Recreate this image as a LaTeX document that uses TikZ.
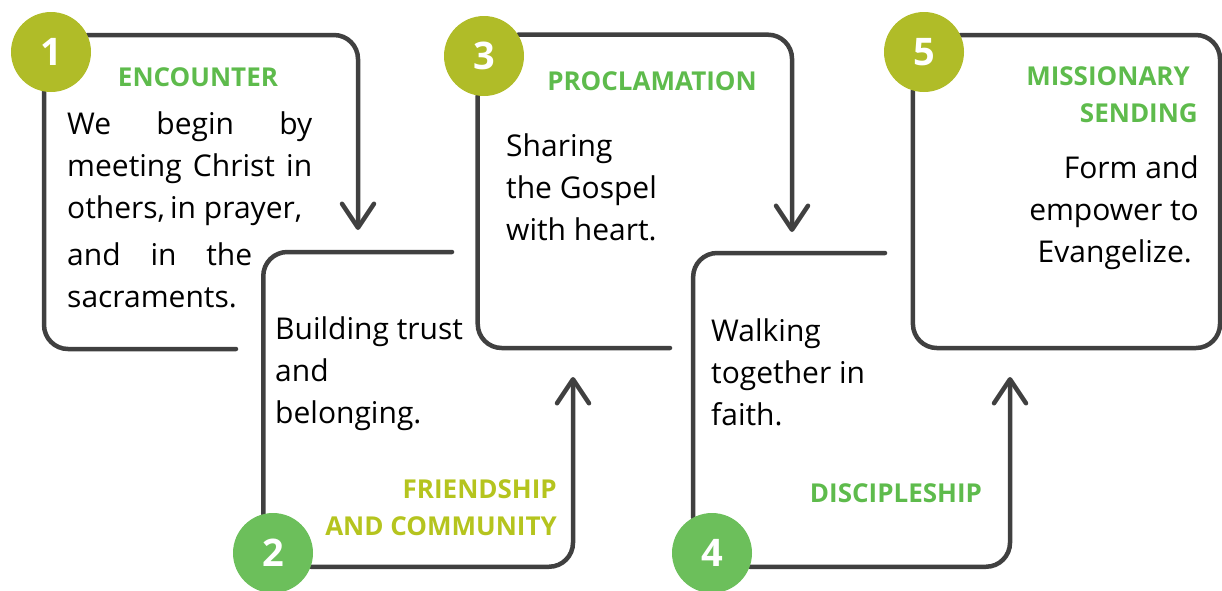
\documentclass[tikz,border=0pt]{standalone}
\usepackage{fontspec}
\setmainfont{Open Sans}
\usetikzlibrary{arrows.meta, backgrounds}
\definecolor{stroke}{HTML}{404040}
\definecolor{olive}{HTML}{B0BC28}
\definecolor{leaf}{HTML}{6CBF5B}
\definecolor{titlegreen}{HTML}{5EBB4C}
\definecolor{lime}{HTML}{B5C41E}

\begin{document}
\begin{tikzpicture}[x=1pt, y=-1pt,
    flow/.style={line width=4.5pt, draw=stroke, rounded corners=24pt, line cap=round},
    tip/.style={-{Straight Barb[length=24pt, width=32pt, round]}},
    badge/.style={circle, fill=#1, minimum size=80pt, inner sep=0pt, text=white,
        font=\fontsize{38}{38}\selectfont\bfseries},
    body/.style={inner sep=0pt, font=\fontsize{30}{42}\selectfont},
    head/.style={inner sep=0pt, text=#1, font=\fontsize{26}{37}\selectfont\bfseries}]
    \useasboundingbox (0,0) rectangle (1222,590);

    % numbered badges
    \node[badge=olive] (c1) at (51,52) {1};
    \node[badge=leaf] (c2) at (273,553) {2};
    \node[badge=olive] (c3) at (484,56) {3};
    \node[badge=leaf] (c4) at (712,553) {4};
    \node[badge=olive] (c5) at (924,52) {5};

    % free ends of the strokes
    \coordinate (a1) at (358,230);
    \coordinate (e1) at (236,349);
    \coordinate (a2) at (573,377);
    \coordinate (e2) at (452,252);
    \coordinate (a3) at (792,232);
    \coordinate (e3) at (670,348);
    \coordinate (a4) at (1010,377);
    \coordinate (e4) at (885,253);
    \coordinate (k5) at (1220,348);

    \begin{scope}[on background layer]
        \draw[flow, tip] (c1.25) -| (a1);
        \draw[flow] (c1.-100) |- (e1);
        \draw[flow, tip] (c2.-20) -| (a2);
        \draw[flow] (c2.104) |- (e2);
        \draw[flow, tip] (c3.32) -| (a3);
        \draw[flow] (c3.-99) |- (e3);
        \draw[flow, tip] (c4.-20) -| (a4);
        \draw[flow] (c4.118) |- (e4);
        \draw[flow] (c5.25) -| (k5) -| (c5.-106);
    \end{scope}

    % titles (base = last line)
    \node[head=titlegreen, anchor=base] (h1) at (198,86) {ENCOUNTER};
    \node[head=lime, anchor=base east, align=right] (h2) at (557,535) {FRIENDSHIP\\AND COMMUNITY};
    \node[head=titlegreen, anchor=base] (h3) at (652,90) {PROCLAMATION};
    \node[head=titlegreen, anchor=base] (h4) at (896,502) {DISCIPLESHIP};
    \node[head=titlegreen, anchor=base east, align=right] (h5) at (1198,122) {MISSIONARY\kern8pt\\SENDING};

    % texts
    \node[body, anchor=base west, align=left] (t1) at (67,307)
        {\hbox to 245pt{We\hfill begin\hfill by}\\
         \hbox to 245pt{meeting\hfill Christ\hfill in}\\
         \hbox to 235pt{others,\hfill in prayer,}\\[5pt]
         \hbox to 185pt{and\hfill in\hfill the}\\
         sacraments.};
    \node[body, anchor=base west, align=left] (t2) at (275,423) {Building trust\\and\\belonging.};
    \node[body, anchor=base west, align=left] (t3) at (506,240) {Sharing\\the Gospel\\with heart.};
    \node[body, anchor=base west, align=left] (t4) at (711,425) {Walking\\together in\\faith.};
    \node[body, anchor=base east, align=right] (t5) at (1199,262) {Form and\\empower to\\Evangelize.\kern7pt};
\end{tikzpicture}
\end{document}
